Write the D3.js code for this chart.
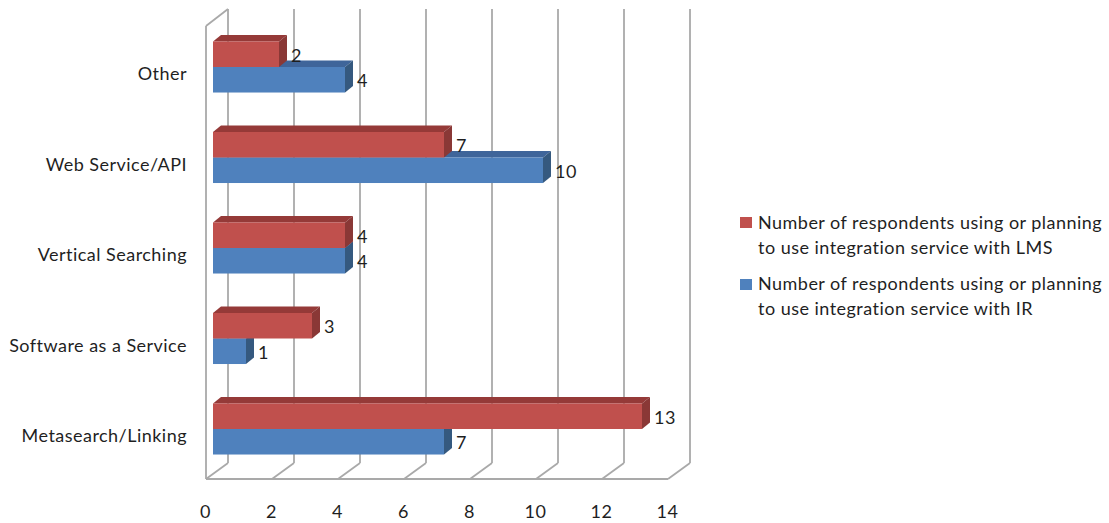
<!DOCTYPE html>
<html>
<head>
<meta charset="utf-8">
<script src="https://cdn.jsdelivr.net/npm/d3@7"></script>
<style>
  html, body { margin: 0; padding: 0; background: #fff; }
  svg { display: block; }
  text { font-family: Lato, "Open Sans", sans-serif; fill: #1f1f1f; letter-spacing: 0.47px; }
</style>
</head>
<body>
<div id="chart"></div>
<script>
    //Data
    const categories = ['Other', 'Web Service/API', 'Vertical Searching', 'Software as a Service', 'Metasearch/Linking'];
    const lmsValues = [2, 7, 4, 3, 13];
    const irValues = [4, 10, 4, 1, 7];
    const tickValues = [0, 2, 4, 6, 8, 10, 12, 14];
    const lmsLegend = ['Number of respondents using or planning', 'to use integration service with LMS'];
    const irLegend = ['Number of respondents using or planning', 'to use integration service with IR'];

    const width = 1109;
    const height = 523;
    const fontSize = 18;

    const svg = d3.select('#chart')
        .append('svg')
        .attr('width', width)
        .attr('height', height);

    //Scales: front edge of the floor, back wall and the bars themselves
    const xFront = d3.scaleLinear().domain([0, 14]).range([206, 668]);
    const xBack = d3.scaleLinear().domain([0, 14]).range([228, 690]);
    const xBar = d3.scaleLinear().domain([0, 14]).range([213, 675]);
    const y = d3.scaleBand()
        .domain(categories)
        .range([21.75, 474.25])
        .paddingInner(0.436)
        .paddingOuter(0.218);

    const wallTop = 9;
    const wallBottom = 463;
    const frontTop = 26;
    const floorY = 479;
    const depthX = 8;
    const depthY = 6.5;
    const gridColor = '#a9a9a9';

    /*##### Walls and floor #####*/
    const grid = svg.append('g')
        .attr('fill', 'none')
        .attr('stroke', gridColor)
        .attr('stroke-width', 1.8);

    grid.selectAll('.wall')
        .data(tickValues)
        .join('line')
        .attr('class', 'wall')
        .attr('x1', d => xBack(d))
        .attr('x2', d => xBack(d))
        .attr('y1', wallTop)
        .attr('y2', wallBottom);

    grid.selectAll('.floor')
        .data(tickValues)
        .join('line')
        .attr('class', 'floor')
        .attr('x1', d => xFront(d))
        .attr('x2', d => xBack(d))
        .attr('y1', floorY)
        .attr('y2', wallBottom);

    grid.append('line')
        .attr('x1', xFront(0)).attr('x2', xFront(14))
        .attr('y1', floorY).attr('y2', floorY);
    grid.append('line')
        .attr('x1', xFront(0)).attr('x2', xFront(0))
        .attr('y1', frontTop).attr('y2', floorY);
    grid.append('line')
        .attr('x1', xFront(0)).attr('x2', xBack(0))
        .attr('y1', frontTop).attr('y2', wallTop);

    /*##### Bars #####*/
    const barHeight = y.bandwidth() / 2;

    //Draws one series as boxes: top face, side face, then the front
    function drawBars(values, offset, colors) {
        const rows = categories.map((c, i) => ({ category: c, value: values[i] }));
        const g = svg.append('g');
        const top = d => y(d.category) + offset;

        g.selectAll('.top')
            .data(rows)
            .join('polygon')
            .attr('fill', colors.top)
            .attr('points', d => [
                [xBar(0), top(d)],
                [xBar(0) + depthX, top(d) - depthY],
                [xBar(d.value) + depthX, top(d) - depthY],
                [xBar(d.value), top(d)]
            ].join(' '));

        g.selectAll('.side')
            .data(rows)
            .join('polygon')
            .attr('fill', colors.side)
            .attr('points', d => [
                [xBar(d.value), top(d)],
                [xBar(d.value) + depthX, top(d) - depthY],
                [xBar(d.value) + depthX, top(d) + barHeight - depthY],
                [xBar(d.value), top(d) + barHeight]
            ].join(' '));

        g.selectAll('.front')
            .data(rows)
            .join('rect')
            .attr('fill', colors.front)
            .attr('x', xBar(0))
            .attr('y', top)
            .attr('width', d => xBar(d.value) - xBar(0))
            .attr('height', barHeight);

        return rows.map(d => ({ value: d.value, x: xBar(d.value) + 12, y: top(d) + barHeight / 2 + 1 }));
    }

    //Blue goes first so the red front hides the blue top face
    const irLabels = drawBars(irValues, barHeight, { front: '#4f81bd', side: '#35597f', top: '#3f659a' });
    const lmsLabels = drawBars(lmsValues, 0, { front: '#c0504d', side: '#8a3836', top: '#953a38' });

    //Value labels
    svg.append('g')
        .selectAll('text')
        .data(irLabels.concat(lmsLabels))
        .join('text')
        .attr('x', d => d.x)
        .attr('y', d => d.y)
        .attr('dy', '0.35em')
        .attr('font-size', fontSize)
        .text(d => d.value);

    /*##### Axes #####*/
    const xAxis = svg.append('g')
        .attr('transform', 'translate(-1,' + 499 + ')')
        .call(d3.axisBottom(xFront).tickValues(tickValues).tickSize(0).tickPadding(6));
    const yAxis = svg.append('g')
        .attr('transform', 'translate(193,7.5)')
        .call(d3.axisLeft(y).tickSize(0).tickPadding(6));

    xAxis.select('.domain').remove();
    yAxis.select('.domain').remove();
    svg.selectAll('.tick text')
        .attr('font-size', fontSize)
        .attr('font-family', 'Lato, "Open Sans", sans-serif')
        .style('fill', '#1f1f1f');

    /*##### Legend #####*/
    const legendItems = [
        { lines: lmsLegend, color: '#c0504d', swatchY: 217, textY: [223, 248] },
        { lines: irLegend, color: '#4f81bd', swatchY: 279, textY: [284, 309] }
    ];

    const legend = svg.append('g');
    legendItems.forEach(item => {
        legend.append('rect')
            .attr('x', 740)
            .attr('y', item.swatchY)
            .attr('width', 12)
            .attr('height', 11)
            .attr('fill', item.color);
        item.lines.forEach((line, i) => {
            legend.append('text')
                .attr('x', 758)
                .attr('y', item.textY[i])
                .attr('dy', '0.35em')
                .attr('font-size', fontSize)
                .text(line);
        });
    });
</script>
</body>
</html>
